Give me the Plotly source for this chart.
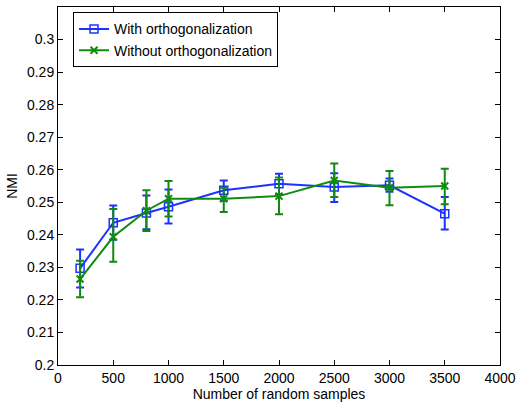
import plotly.graph_objects as go

samples = [200, 500, 800, 1000, 1500, 2000, 2500, 3000, 3500]

with_mean = [0.2297, 0.2437, 0.2467, 0.2486, 0.2537, 0.2557, 0.2547, 0.2552, 0.2465]
with_top = [0.2355, 0.2490, 0.2521, 0.2539, 0.2567, 0.2588, 0.2589, 0.2573, 0.2516]
with_bot = [0.2238, 0.2385, 0.2417, 0.2435, 0.2505, 0.2525, 0.2501, 0.2532, 0.2416]

without_mean = [0.2264, 0.2394, 0.2474, 0.2511, 0.2511, 0.2519, 0.2567, 0.2545, 0.2550]
without_top = [0.2320, 0.2479, 0.2537, 0.2565, 0.2545, 0.2576, 0.2619, 0.2596, 0.2603]
without_bot = [0.2208, 0.2317, 0.2412, 0.2456, 0.2470, 0.2463, 0.2516, 0.2491, 0.2494]

x_ticks = [0, 500, 1000, 1500, 2000, 2500, 3000, 3500, 4000]
y_ticks = [0.2, 0.21, 0.22, 0.23, 0.24, 0.25, 0.26, 0.27, 0.28, 0.29, 0.3]
y_tick_text = ["0.2", "0.21", "0.22", "0.23", "0.24", "0.25", "0.26", "0.27", "0.28", "0.29", "0.3"]

blue = "#1a33ff"
green = "#108a10"

fig = go.Figure()
fig.add_trace(go.Scatter(
    x=samples, y=with_mean, name="With orthogonalization",
    mode="lines+markers",
    line=dict(color=blue, width=2),
    marker=dict(symbol="square-open", size=8, color=blue, line=dict(width=1.5, color=blue)),
    error_y=dict(type="data", symmetric=False,
                 array=[t - m for t, m in zip(with_top, with_mean)],
                 arrayminus=[m - b for m, b in zip(with_mean, with_bot)],
                 color=blue, thickness=2, width=4),
))
fig.add_trace(go.Scatter(
    x=samples, y=without_mean, name="Without orthogonalization",
    mode="lines+markers",
    line=dict(color=green, width=2),
    marker=dict(symbol="x-thin-open", size=7, color=green, line=dict(width=2, color=green)),
    error_y=dict(type="data", symmetric=False,
                 array=[t - m for t, m in zip(without_top, without_mean)],
                 arrayminus=[m - b for m, b in zip(without_mean, without_bot)],
                 color=green, thickness=2, width=4),
))

fig.update_layout(
    width=522, height=404,
    margin=dict(l=58, r=17, t=6, b=39),
    paper_bgcolor="white", plot_bgcolor="white",
    font=dict(family="Liberation Sans, Arial, sans-serif", size=14, color="black"),
    showlegend=True,
    legend=dict(x=0.034, y=0.985, xanchor="left", yanchor="top",
                bordercolor="black", borderwidth=1, bgcolor="white",
                font=dict(size=14), tracegroupgap=0, itemwidth=30),
)
fig.update_xaxes(
    range=[0, 4000], tickvals=x_ticks, ticktext=[str(v) for v in x_ticks],
    ticks="inside", ticklen=5, tickcolor="black", showline=True, linecolor="black",
    linewidth=1, mirror="ticks", showgrid=False, zeroline=False,
    title=dict(text="Number of random samples", standoff=0, font=dict(size=14)),
    tickfont=dict(size=14),
)
fig.update_yaxes(
    range=[0.2, 0.31], tickvals=y_ticks, ticktext=y_tick_text,
    ticks="inside", ticklen=5, tickcolor="black", showline=True, linecolor="black",
    linewidth=1, mirror="ticks", showgrid=False, zeroline=False,
    title=dict(text="NMI", standoff=6, font=dict(size=14)),
    tickfont=dict(size=14),
)

fig.write_html("out.html")
